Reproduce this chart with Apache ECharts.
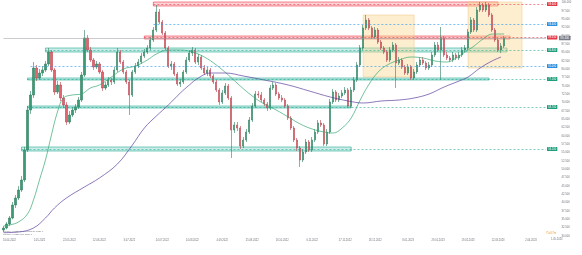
<!DOCTYPE html>
<html><head><meta charset="utf-8">
<script src="https://cdn.jsdelivr.net/npm/echarts@6/dist/echarts.min.js"></script>
<style>html,body{margin:0;padding:0;background:#fff}#c{width:582px;height:255px}</style>
</head><body><div id="c"></div>
<script>
// ---- data ----
const tickCats = [2, 12, 22, 32, 42, 53, 63, 73, 83, 93, 103, 114, 124, 135, 145, 155, 165, 176];
const tickLabels = ["10.04.2022","1.05.2022","22.05.2022","12.06.2022","3.07.2022","24.07.2022","14.08.2022","4.09.2022","25.09.2022","16.10.2022","6.11.2022","27.11.2022","18.12.2022","8.01.2023","29.01.2023","19.02.2023","12.03.2023","2.04.2023"];
const totalSlots = 182;

const opens = [31.8,32.4,33.6,35.4,39.3,41.4,43.8,46.8,55.8,67.8,
72.3,80.4,77.4,78.9,79.8,81.6,85.2,79.8,73.2,75.3,
71.4,69.3,64.2,66.3,67.8,68.7,70.8,78.3,89.4,85.8,
82.8,80.7,81.6,79.2,74.4,75.3,76.8,76.2,79.8,85.2,
82.2,79.2,76.2,72.3,79.2,81.0,82.2,84.0,85.2,86.4,
88.8,91.8,97.2,94.2,90.9,86.4,81.0,81.6,78.6,75.6,
76.2,79.2,82.8,84.9,85.8,82.2,83.7,80.4,78.9,79.8,
78.0,76.2,73.8,70.2,72.9,75.0,71.4,61.8,63.3,62.4,
57.0,58.8,61.2,64.8,69.0,72.6,72.3,70.8,69.6,68.4,
74.4,75.3,72.6,71.4,70.8,69.0,65.4,62.4,58.8,56.4,
52.8,55.2,58.2,55.8,58.8,61.2,63.9,63.3,57.6,61.2,
70.2,73.2,70.8,72.0,72.9,73.8,69.0,73.8,76.8,81.3,
86.4,92.4,94.8,92.4,89.7,91.8,88.2,86.4,85.2,82.8,
85.8,87.3,81.9,82.8,80.7,78.9,80.7,77.4,79.2,81.3,
82.8,81.9,80.4,81.3,84.3,87.3,85.8,89.4,84.3,83.4,
82.8,84.3,83.4,84.3,85.8,86.4,91.2,94.8,91.8,97.8,
99.3,97.8,99.3,96.3,91.8,88.8,85.8,87.0];
const closes = [32.4,33.6,35.4,39.3,41.4,43.8,46.8,55.8,67.8,72.3,
80.4,77.4,78.9,79.8,81.6,85.2,79.8,73.2,75.3,71.4,
69.3,64.2,66.3,67.8,68.7,70.8,78.3,89.4,85.8,82.8,
80.7,81.6,79.2,74.4,75.3,76.8,76.2,79.8,85.2,82.2,
79.2,76.2,72.3,79.2,81.0,82.2,84.0,85.2,86.4,88.8,
91.8,97.2,94.2,90.9,86.4,81.0,81.6,78.6,75.6,76.2,
79.2,82.8,84.9,85.8,82.2,83.7,80.4,78.9,79.8,78.0,
76.2,73.8,70.2,72.9,75.0,71.4,61.8,63.3,62.4,57.0,
58.8,61.2,64.8,69.0,72.6,72.3,70.8,69.6,68.4,74.4,
75.3,72.6,71.4,70.8,69.0,65.4,62.4,58.8,56.4,52.8,
55.2,58.2,55.8,58.8,61.2,63.9,63.3,57.6,61.2,70.2,
73.2,70.8,72.0,72.9,73.8,69.0,73.8,76.8,81.3,86.4,
92.4,94.8,92.4,89.7,91.8,88.2,86.4,85.2,82.8,85.8,
87.3,81.9,82.8,80.7,78.9,80.7,77.4,79.2,81.3,82.8,
81.9,80.4,81.3,84.3,87.3,85.8,89.4,84.3,83.4,82.8,
84.3,83.4,84.3,85.8,86.4,91.2,94.8,91.8,97.8,99.3,
97.8,99.3,96.3,91.8,88.8,85.8,87.0,89.4];
const lows = [31.2,32.0,33.0,35.0,38.4,40.8,43.2,46.2,55.2,66.6,
71.4,76.5,76.8,78.0,79.2,81.0,79.2,72.3,72.6,70.5,
68.4,63.3,63.6,65.7,66.9,68.1,70.2,77.7,85.2,82.2,
79.8,80.1,78.6,73.5,73.8,74.7,75.3,75.6,79.2,81.6,
78.6,75.6,66.3,71.7,78.6,80.4,81.6,83.4,84.6,85.8,
88.2,91.2,93.6,90.3,85.8,80.4,79.8,78.0,75.0,74.7,
75.6,78.6,82.2,84.0,81.6,81.3,79.8,78.3,78.0,77.4,
75.6,73.2,69.3,69.6,72.3,70.8,53.4,60.9,61.5,56.1,
56.4,58.2,60.6,64.2,68.4,71.4,70.2,69.0,67.5,67.8,
73.8,72.0,70.8,70.2,68.4,64.8,61.8,58.2,55.5,50.7,
52.2,54.6,55.2,55.2,58.2,60.6,62.7,57.0,57.0,60.6,
69.6,70.2,70.2,71.4,72.3,68.4,68.4,73.2,76.2,80.7,
85.8,91.8,91.8,89.1,89.1,87.6,85.8,84.6,82.2,82.2,
85.2,74.4,81.3,80.1,78.3,78.3,76.8,76.8,78.6,80.7,
81.3,79.8,79.8,80.7,83.7,85.2,76.8,83.7,82.8,82.2,
82.2,82.8,82.8,83.7,85.2,85.8,90.6,91.2,91.2,97.2,
97.2,97.2,95.7,91.2,88.2,85.2,84.9,86.4];
const highs = [33.0,34.2,36.0,40.2,42.3,45.0,48.0,56.7,69.0,73.5,
82.2,81.3,80.1,81.0,82.5,86.4,85.8,80.4,76.5,76.2,
72.3,70.2,67.5,68.7,69.6,71.7,79.2,91.8,90.3,86.7,
83.4,82.5,82.2,79.8,76.2,77.7,77.4,80.7,86.4,85.8,
82.8,79.8,76.8,79.8,81.9,83.1,84.9,86.1,87.3,89.7,
92.7,99.3,98.1,94.8,91.5,87.0,82.5,82.2,79.2,77.1,
79.8,83.7,85.8,86.7,86.4,84.6,84.3,81.3,80.7,80.4,
78.6,76.8,74.4,73.8,75.9,75.6,72.0,64.2,64.2,63.0,
59.7,62.1,65.7,69.9,73.5,73.5,73.2,71.4,70.2,75.3,
76.2,75.9,73.2,72.3,71.4,69.6,66.0,63.0,59.4,57.0,
56.1,59.1,58.8,59.7,62.1,64.8,64.8,63.9,62.1,71.1,
74.1,73.8,72.9,73.8,74.7,74.4,74.7,77.7,82.2,87.3,
93.3,96.3,95.4,93.0,92.7,92.4,88.8,87.0,85.8,86.7,
88.2,87.9,83.7,83.4,81.3,81.6,81.3,80.1,82.2,83.7,
83.7,82.5,82.2,85.2,88.2,88.2,92.7,90.0,85.2,84.0,
85.2,84.9,85.2,86.7,87.3,92.1,95.7,95.4,98.7,100.2,
99.9,100.2,99.9,96.9,92.4,89.4,87.9,90.0];

// moving averages: [slot index, value]
const maFast = [[0,33.0],[2,33.3],[5,34.2],[8,36.6],[10,40.8],[12,46.8],[14,52.8],[16,60.3],[18,67.2],[20,71.4],[23,72.3],[26,72.6],[29,74.4],[32,75.3],[36,77.7],[40,80.1],[44,81.0],[48,82.8],[51,84.6],[55,85.8],[59,85.8],[63,85.2],[67,83.7],[71,81.3],[75,78.3],[79,75.0],[83,72.0],[87,69.6],[91,67.8],[95,65.7],[99,63.6],[103,62.1],[107,61.2],[110,60.9],[113,62.4],[116,65.4],[119,70.8],[122,75.6],[125,79.2],[128,81.3],[132,82.8],[136,83.7],[140,83.4],[144,82.5],[148,82.2],[151,83.4],[154,85.2],[157,87.0],[160,89.1],[163,90.6],[167,90.6]];
const maSlow = [[0,31.0],[5,31.2],[10,32.4],[14,35.4],[17,38.4],[21,41.4],[27,44.7],[32,47.4],[38,51.6],[43,57.3],[47,62.4],[51,66.0],[55,69.3],[59,72.9],[62,75.3],[65,77.4],[69,78.9],[74,78.9],[80,78.0],[87,76.8],[95,75.3],[102,73.5],[109,71.7],[115,70.5],[120,69.9],[126,70.5],[132,70.8],[137,71.4],[142,72.6],[147,74.7],[152,76.5],[155,77.7],[159,80.4],[163,82.5],[166,83.7]];

// zones (bands)
const bandFrom = [50, 47, 14, 8, 8, 6];
const bandTo   = [165, 169, 168, 162, 116, 116];
const bandLow  = [99.0, 89.1, 85.2, 76.8, 68.4, 55.5];
const bandHigh = [100.2, 90.0, 86.4, 77.4, 69.0, 56.7];
const bandKind = ['r','r','g','g','g','g'];
// levels (dashed lines with price tags)
const levelValue = [99.6, 93.6, 89.55, 85.8, 81.0, 77.1, 68.7, 56.1];
const levelFrom  = [50, 50, 47, 14, 9, 8, 8, 6];
const levelKind  = ['r','b','r','g','b','g','g','g'];
// highlighted boxes
const boxFrom = [120, 155];
const boxTo   = [137, 173];
const boxLow  = [77.7, 80.4];
const boxHigh = [96.3, 100.2];
const lastPrice = 89.4;

// ---- build ----
const cats = [];
for (let i = 0; i < totalSlots; i++) cats.push(String(i));
const ohlc = opens.map((o, i) => [o, closes[i], lows[i], highs[i]]);
const lastSlot = totalSlots - 1;

const C = {
  r: {line: '#f23645', fill: 'rgba(242,54,69,0.22)', tag: '#e53945'},
  g: {line: '#22ab94', fill: 'rgba(34,171,148,0.22)', tag: '#1e9e7c'},
  b: {line: '#2196f3', fill: 'rgba(33,150,243,0.2)', tag: '#2a8fe0'}
};

const areaData = [];
bandFrom.forEach((f, i) => {
  areaData.push([{coord: [f, bandHigh[i]], itemStyle: {color: C[bandKind[i]].fill, borderColor: C[bandKind[i]].line, borderWidth: 0.6}},
                 {coord: [bandTo[i], bandLow[i]]}]);
});
boxFrom.forEach((f, i) => {
  areaData.push([{coord: [f, boxHigh[i]], itemStyle: {color: 'rgba(249,214,140,0.42)', borderColor: 'rgba(240,190,110,0.7)', borderWidth: 0.6}},
                 {coord: [boxTo[i], boxLow[i]]}]);
});

const lineData = levelValue.map((v, i) => {
  const col = C[levelKind[i]];
  return [{coord: [levelFrom[i], v], lineStyle: {color: col.line, type: [2, 2], width: 0.6},
           label: {show: true, position: 'end', distance: 1, formatter: v.toFixed(3), color: '#fff',
                   backgroundColor: col.tag, fontSize: 2.6, padding: [0.6, 1.2], borderRadius: 0.5}},
          {coord: [lastSlot, v]}];
});
lineData.push([{coord: [0, lastPrice], lineStyle: {color: '#9598a1', type: 'solid', width: 0.5},
                label: {show: true, position: 'end', distance: 13, formatter: lastPrice.toFixed(3), color: '#fff',
                        backgroundColor: '#787b86', fontSize: 2.8, padding: [0.8, 1.5], borderRadius: 0.5}},
               {coord: [lastSlot, lastPrice]}]);

const chart = echarts.init(document.getElementById('c'), null, {renderer: 'canvas'});
chart.setOption({
  animation: false,
  backgroundColor: '#ffffff',
  grid: {left: 1.5, top: 0, width: 546, height: 236},
  xAxis: {
    type: 'category', data: cats, boundaryGap: true,
    axisLine: {show: false}, axisTick: {show: false}, splitLine: {show: false},
    axisLabel: {
      interval: (idx) => tickCats.indexOf(idx) >= 0,
      formatter: (val, idx) => { const k = tickCats.indexOf(Number(val)); return k >= 0 ? tickLabels[k] : ''; },
      fontSize: 2.6, color: '#6f727c', margin: 3
    }
  },
  yAxis: {
    type: 'value', position: 'right', min: 30, max: 100.8, interval: 2.5, scale: true,
    axisLine: {show: false}, axisTick: {show: false}, splitLine: {show: false},
    axisLabel: {fontSize: 2.7, color: '#6f727c', margin: 14, showMaxLabel: false,
                formatter: (v) => v.toFixed(3)}
  },
  series: [
    {type: 'line', name: 'zones', data: [], z: 1, silent: true,
     markArea: {silent: true, data: areaData},
     markLine: {silent: true, symbol: 'none', data: lineData}},
    {type: 'candlestick', name: 'price', data: ohlc, z: 3, barWidth: 1.7,
     itemStyle: {color: '#3a9c74', color0: '#e3636f', borderColor: '#2e7e5e', borderColor0: '#b9434f', borderWidth: 0.6}},
    {type: 'line', name: 'MA fast', data: maFast, z: 4, smooth: 0.4, showSymbol: false,
     lineStyle: {color: '#36a872', width: 0.7}},
    {type: 'line', name: 'MA slow', data: maSlow, z: 4, smooth: 0.4, showSymbol: false,
     lineStyle: {color: '#5b3f9e', width: 0.7}}
  ],
  graphic: [
    {type: 'text', left: 3, top: 230, style: {text: 'Moving Average Exponential 50 close 0', fontSize: 2.3, fill: '#6f727c'}},
    {type: 'text', left: 3, top: 233, style: {text: 'Moving Average 200 close 0', fontSize: 2.3, fill: '#6f727c'}},
    {type: 'text', left: 546, top: 231.5, style: {text: '75d 47m', fontSize: 2.6, fill: '#f0a030'}},
    {type: 'text', left: 551, top: 238, style: {text: '1.05.2023', fontSize: 2.6, fill: '#6f727c'}}
  ]
});
</script>
</body></html>
